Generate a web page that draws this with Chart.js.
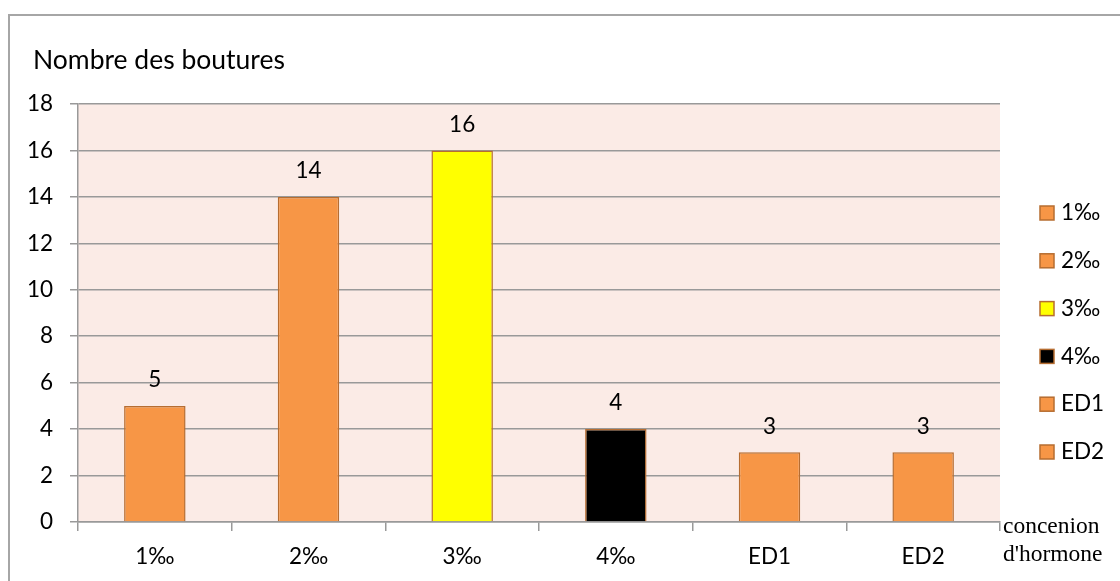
<!DOCTYPE html>
<html>
<head>
    <title>Nombre des boutures</title>
    <script src="https://cdn.jsdelivr.net/npm/chart.js"></script>
    <style>
        body { margin: 0; background: #fff; }
        .frame {
            position: absolute; left: 8px; top: 14px; right: -10px; bottom: -10px;
            border-left: 2px solid #a6a6a6; border-top: 2px solid #a6a6a6;
        }
        #chartBoutures { position: absolute; left: 0; top: 0; }
    </style>
</head>
<body>
    <div class="frame"></div>
    <canvas id="chartBoutures" width="1120" height="581"></canvas>

    <script>
        // Dati
        const categories = ['1‰', '2‰', '3‰', '4‰', 'ED1', 'ED2'];
        const boutures = [5, 14, 16, 4, 3, 3];
        const barColors = ['#F79646', '#F79646', '#FFFF00', '#000000', '#F79646', '#F79646'];
        const yTicks = [0, 2, 4, 6, 8, 10, 12, 14, 16, 18];

        const FONT = 'Lato, "Open Sans", sans-serif';

        // Sfondo dell'area del grafico
        const plotBg = {
            id: 'plotBg',
            beforeDraw(chart) {
                const { ctx, chartArea: a } = chart;
                ctx.save();
                ctx.fillStyle = '#FBEBE6';
                ctx.fillRect(a.left, a.top, a.right - a.left, a.bottom - a.top);
                ctx.restore();
            }
        };

        // Etichette sopra le barre, legenda e titoli
        const extras = {
            id: 'extras',
            afterDatasetsDraw(chart) {
                const { ctx } = chart;
                const meta = chart.getDatasetMeta(0);
                ctx.save();
                ctx.font = '22.5px ' + FONT;
                ctx.fillStyle = '#000';
                ctx.textAlign = 'center';
                ctx.textBaseline = 'middle';
                meta.data.forEach((bar, i) => {
                    ctx.fillText(boutures[i], bar.x, bar.y - 26);
                });

                // titolo asse y
                ctx.textAlign = 'left';
                ctx.font = '26.5px ' + FONT;
                ctx.fillText('Nombre des boutures', 33, 60);

                // titolo asse x
                ctx.font = '23.5px "Liberation Serif", serif';
                ctx.fillText('concenion', 1003, 527);
                ctx.fillText("d'hormone", 1003, 555);

                // legenda
                ctx.font = '22.5px ' + FONT;
                categories.forEach((c, i) => {
                    const y = 213 + i * 47.8;
                    ctx.fillStyle = barColors[i];
                    ctx.fillRect(1040, y - 7, 14, 14);
                    ctx.strokeStyle = '#B66D31';
                    ctx.lineWidth = 1.5;
                    ctx.strokeRect(1040, y - 7, 14, 14);
                    ctx.fillStyle = '#000';
                    ctx.fillText(c, 1061, y);
                });
                ctx.restore();
            }
        };

        const ctx = document.getElementById('chartBoutures').getContext('2d');
        new Chart(ctx, {
            type: 'bar',
            data: {
                labels: categories,
                datasets: [{
                    label: 'Nombre des boutures',
                    data: boutures,
                    backgroundColor: barColors,
                    borderColor: '#B66D31',
                    borderWidth: 1.5,
                    barPercentage: 0.4,
                    categoryPercentage: 1
                }]
            },
            options: {
                responsive: false,
                animation: false,
                layout: { padding: { top: 104, right: 120, left: 0, bottom: 0 } },
                plugins: {
                    legend: { display: false },
                    tooltip: { enabled: false }
                },
                scales: {
                    x: {
                        grid: {
                            offset: true,
                            drawOnChartArea: false,
                            drawTicks: true,
                            tickLength: 9,
                            color: '#999',
                            lineWidth: 1.5
                        },
                        border: { color: '#999', width: 1.5 },
                        ticks: {
                            color: '#000',
                            font: { family: FONT, size: 22.5 },
                            padding: 12
                        },
                        afterFit(scale) { scale.height = 59; }
                    },
                    y: {
                        min: 0,
                        max: 18,
                        afterBuildTicks(scale) {
                            scale.ticks = yTicks.map(v => ({ value: v }));
                        },
                        grid: {
                            color: '#999',
                            lineWidth: 1.5,
                            tickLength: 8
                        },
                        border: { color: '#999', width: 1.5 },
                        ticks: {
                            color: '#000',
                            font: { family: FONT, size: 22.5 },
                            padding: 17
                        },
                        afterFit(scale) { scale.width = 78; }
                    }
                }
            },
            plugins: [plotBg, extras]
        });
    </script>
</body>
</html>
